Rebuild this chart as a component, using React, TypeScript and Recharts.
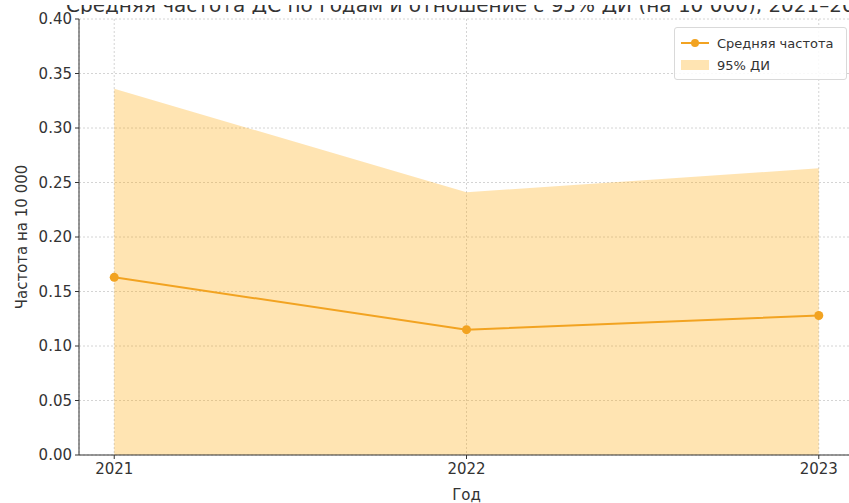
import React from 'react';
import {
  ComposedChart,
  Area,
  Line,
  XAxis,
  YAxis,
  CartesianGrid,
} from 'recharts';

// Yearly mean rate per 10 000 with its 95% confidence interval
const years = [2021, 2022, 2023];
const meanRate = [0.163, 0.115, 0.128];
const ciLower = [0, 0, 0];
const ciUpper = [0.336, 0.241, 0.263];
const yTicks = [0, 0.05, 0.1, 0.15, 0.2, 0.25, 0.3, 0.35, 0.4];

const data = years.map((year, i) => ({
  year,
  mean: meanRate[i],
  ci: [ciLower[i], ciUpper[i]],
}));

const FONT = '"DejaVu Sans", sans-serif';
const LINE_COLOR = '#F2A321';
const BAND_COLOR = '#FFA500';
const TEXT_COLOR = '#333333';

const LegendBox = () => (
  <div
    style={{
      position: 'absolute',
      left: 674,
      top: 27,
      width: 173,
      height: 53,
      boxSizing: 'border-box',
      border: '1px solid #d9d9d9',
      borderRadius: 3,
      background: 'rgba(255,255,255,0.85)',
      fontFamily: FONT,
      fontSize: 13,
      color: TEXT_COLOR,
      padding: '4px 0 0 6px',
    }}
  >
    <div style={{ display: 'flex', alignItems: 'center', height: 22 }}>
      <svg width={28} height={12} style={{ marginRight: 8 }}>
        <line x1={0} y1={6} x2={28} y2={6} stroke={LINE_COLOR} strokeWidth={2} />
        <circle cx={14} cy={6} r={4} fill={LINE_COLOR} />
      </svg>
      <span>Средняя частота</span>
    </div>
    <div style={{ display: 'flex', alignItems: 'center', height: 22 }}>
      <svg width={28} height={12} style={{ marginRight: 8 }}>
        <rect x={0} y={1} width={28} height={10} fill={BAND_COLOR} fillOpacity={0.3} />
      </svg>
      <span>95% ДИ</span>
    </div>
  </div>
);

const YLabel = (props: any) => {
  const vb = props.viewBox || {};
  const cx = (vb.x || 0) + 22;
  const cy = (vb.y || 0) + (vb.height || 0) / 2;
  return (
    <text
      x={cx}
      y={cy}
      transform={`rotate(-90, ${cx}, ${cy})`}
      textAnchor="middle"
      dominantBaseline="central"
      fontFamily={FONT}
      fontSize={15}
      fill={TEXT_COLOR}
    >
      Частота на 10 000
    </text>
  );
};

export default function App() {
  return (
    <div
      style={{
        position: 'absolute',
        left: 0,
        top: 0,
        width: 849,
        height: 503,
        overflow: 'hidden',
        background: '#fff',
      }}
    >
      <div
        style={{
          position: 'absolute',
          left: 0,
          top: 5,
          width: 849,
          height: 9,
          overflow: 'hidden',
        }}
      >
        <div
          style={{
            position: 'absolute',
            left: 66,
            top: -11,
            whiteSpace: 'nowrap',
            fontFamily: FONT,
            fontSize: 20,
            lineHeight: '22px',
            color: TEXT_COLOR,
          }}
        >
          Средняя частота ДС по годам и отношение с 95% ДИ (на 10 000), 2021–2023
        </div>
      </div>
      <ComposedChart
        width={900}
        height={503}
        data={data}
        margin={{ top: 19, right: 46, bottom: 0, left: 0 }}
        style={{ position: 'absolute', left: 0, top: 0 }}
      >
        <CartesianGrid stroke="#d4d4d4" strokeDasharray="2 2" />
        <XAxis
          dataKey="year"
          type="number"
          domain={[2020.9, 2023.1]}
          ticks={years}
          allowDataOverflow
          height={48}
          tickSize={4}
          tickMargin={4}
          stroke={TEXT_COLOR}
          tick={{ fill: TEXT_COLOR, fontFamily: FONT, fontSize: 15 }}
          label={{
            value: 'Год',
            position: 'insideBottom',
            offset: 3,
            fill: TEXT_COLOR,
            fontFamily: FONT,
            fontSize: 15,
          }}
        />
        <YAxis
          type="number"
          domain={[0, 0.4]}
          ticks={yTicks}
          width={79}
          tickSize={4}
          tickMargin={3}
          stroke={TEXT_COLOR}
          tickFormatter={(v: number) => v.toFixed(2)}
          tick={{ fill: TEXT_COLOR, fontFamily: FONT, fontSize: 15 }}
          label={<YLabel />}
        />
        <Area
          dataKey="ci"
          type="linear"
          fill={BAND_COLOR}
          fillOpacity={0.3}
          stroke="none"
          isAnimationActive={false}
          name="95% ДИ"
        />
        <Line
          dataKey="mean"
          type="linear"
          stroke={LINE_COLOR}
          strokeWidth={2}
          dot={{ r: 4.5, fill: LINE_COLOR, stroke: LINE_COLOR, strokeWidth: 0 }}
          isAnimationActive={false}
          name="Средняя частота"
        />
      </ComposedChart>
      <LegendBox />
    </div>
  );
}
